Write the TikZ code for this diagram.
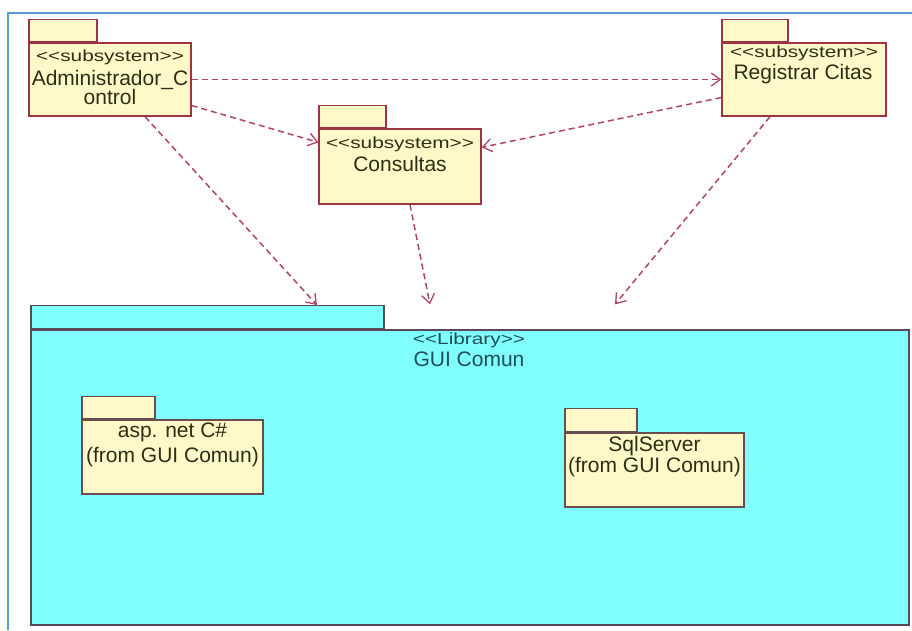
\documentclass[tikz,border=0pt]{standalone}
\usepackage{fontspec}
\setmainfont{Liberation Sans}
\newfontfamily\stereofont{Liberation Sans}[FakeStretch=1.3]
\usetikzlibrary{arrows.meta,calc}

\definecolor{pkgfill}{HTML}{FFF8C8}
\definecolor{pkgline}{HTML}{9E3344}
\definecolor{libfill}{HTML}{80FFFF}
\definecolor{libline}{HTML}{584858}
\definecolor{innerline}{HTML}{6A4E4E}
\definecolor{deparrow}{HTML}{B04466}
\definecolor{framecol}{HTML}{5B9BD5}
\definecolor{pkgtext}{HTML}{2E2E14}
\definecolor{libtext}{HTML}{1E4E56}

\tikzset{
  pkgbody/.style={draw=pkgline, fill=pkgfill, line width=1.3pt, inner sep=0pt},
  libbody/.style={draw=libline, fill=libfill, line width=1.3pt, inner sep=0pt},
  innerbody/.style={draw=innerline, fill=pkgfill, line width=1.3pt, inner sep=0pt},
  stereo/.style={font=\stereofont\fontsize{16}{18}\selectfont, inner sep=0pt},
  pkgname/.style={font=\fontsize{21}{21}\selectfont, inner sep=0pt, align=center},
  depend/.style={draw=deparrow, line width=1.5pt, dash pattern=on 6pt off 4pt,
    -{Straight Barb[length=9pt,width=13pt,line width=1.3pt]}},
}

\begin{document}
\begin{tikzpicture}[x=1pt, y=-1pt]
\useasboundingbox (0,0) rectangle (912,630);
\fill[white] (0,0) rectangle (912,630);

% frame lines
\draw[framecol, line width=2pt] (8,630) -- (8,13) -- (912,13);

% ---- Administrador_Control
\node[pkgbody, minimum width=162pt, minimum height=73pt] (adm) at (110,79.5) {};
\node[pkgbody, minimum width=68pt, minimum height=22pt, anchor=south west] (admtab) at (adm.north west) {};
\node[stereo, text=pkgtext] (admst) at (110,57) {<<subsystem>>};
\node[pkgname, text=pkgtext] (admnm) at (110,87) {Administrador\_C\\[-2pt]ontrol};

% ---- Consultas
\node[pkgbody, minimum width=162pt, minimum height=75pt] (con) at (400,166.5) {};
\node[pkgbody, minimum width=67pt, minimum height=22pt, anchor=south west] (contab) at (con.north west) {};
\node[stereo, text=pkgtext] (const) at (400,144) {<<subsystem>>};
\node[pkgname, text=pkgtext] (connm) at (400,164) {Consultas};

% ---- Registrar Citas
\node[pkgbody, minimum width=164pt, minimum height=73pt] (reg) at (804,79.5) {};
\node[pkgbody, minimum width=66pt, minimum height=22pt, anchor=south west] (regtab) at (reg.north west) {};
\node[stereo, text=pkgtext] (regst) at (804,53) {<<subsystem>>};
\node[pkgname, text=pkgtext] (regnm) at (803,74) {Registrar Citas};

% ---- GUI Comun library
\node[libbody, minimum width=878pt, minimum height=295pt] (gui) at (470,477.5) {};
\node[libbody, minimum width=353pt, minimum height=23pt, anchor=south west] (guitab) at (gui.north west) {};
\node[stereo, text=libtext] (guist) at (469,340) {<<Library>>};
\node[pkgname, text=libtext] (guinm) at (469,359) {GUI Comun};

% ---- asp. net C#
\node[innerbody, minimum width=181pt, minimum height=74pt] (asp) at (172.5,457) {};
\node[innerbody, minimum width=73pt, minimum height=22pt, anchor=south west] (asptab) at (asp.north west) {};
\node[pkgname, text=pkgtext] (aspnm) at (172.5,445) {asp. net C\#\\[4pt](from GUI Comun)};

% ---- SqlServer
\node[innerbody, minimum width=179pt, minimum height=74pt] (sql) at (654.5,470) {};
\node[innerbody, minimum width=72pt, minimum height=23pt, anchor=south west] (sqltab) at (sql.north west) {};
\node[pkgname, text=pkgtext] (sqlnm) at (654.5,457) {SqlServer\\[0pt](from GUI Comun)};

% free ends of the dependencies above the library
\coordinate (guiend1) at ([xshift=109.5pt]guitab.north);
\coordinate (guiend2) at ([xshift=-40pt,yshift=25pt]gui.north);
\coordinate (guiend3) at ([xshift=145pt,yshift=25pt]gui.north);

% ---- dependencies
\draw[depend] (adm.east) -- (reg.west);
\draw[depend] ([yshift=-26pt]adm.east) -- ([yshift=-14pt]con.north west);
\draw[depend] ([yshift=-18pt]reg.west) -- ([yshift=-19pt]con.north east);
\draw[depend] ([xshift=35pt]adm.south) -- (guiend1);
\draw[depend] ([xshift=10pt]con.south) -- (guiend2);
\draw[depend] ([xshift=-34pt]reg.south) -- (guiend3);
\end{tikzpicture}
\end{document}
